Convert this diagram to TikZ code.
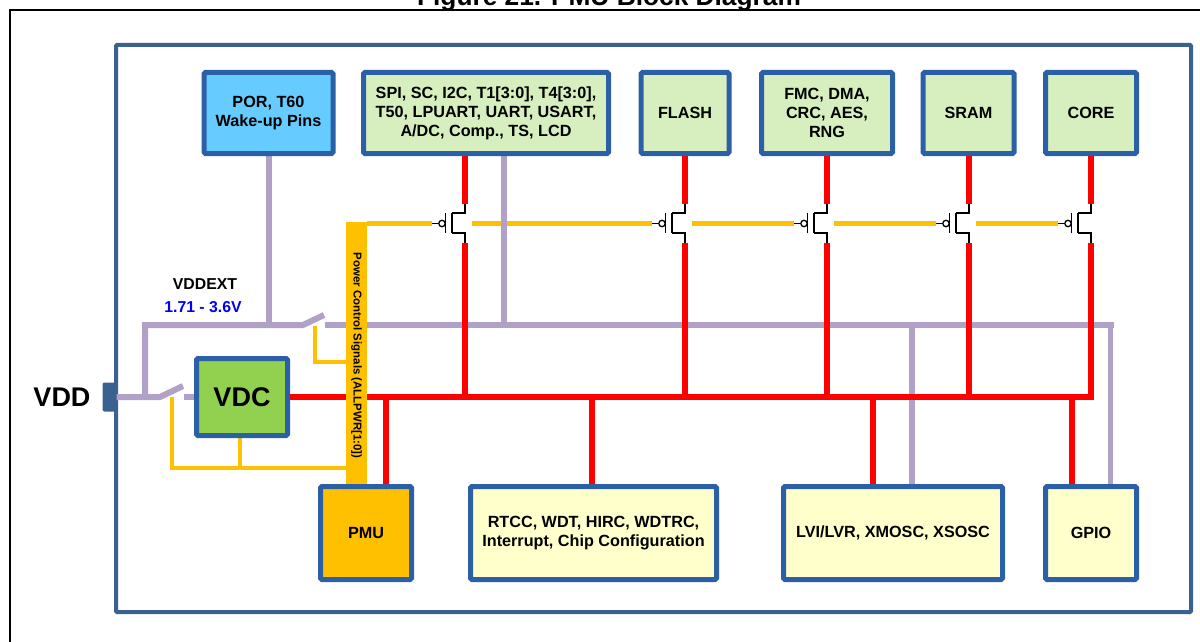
\documentclass[tikz,border=0pt]{standalone}
\usepackage{fontspec}
\setmainfont{Liberation Sans}
\definecolor{bluebd}{HTML}{2B60A6}
\definecolor{outerbd}{HTML}{3B6190}
\definecolor{greenfl}{HTML}{D7EEBE}
\definecolor{skyfl}{HTML}{66CCFF}
\definecolor{vdcfl}{HTML}{92D050}
\definecolor{orangec}{HTML}{FFC000}
\definecolor{creamfl}{HTML}{FFFFCC}
\definecolor{purplec}{HTML}{B1A0C7}
\definecolor{redc}{HTML}{FF0000}
\tikzset{
  blockbox/.style={draw=bluebd,line width=5pt,rounded corners=1.5pt,inner sep=0pt,outer sep=2.5pt,
    align=center,font=\fontsize{16.2}{19}\selectfont\bfseries,text=black},
  greenbox/.style={blockbox,fill=greenfl},
  creambox/.style={blockbox,fill=creamfl},
  powerline/.style={draw=redc,line width=6pt},
  supplyline/.style={draw=purplec,line width=6pt},
  ctrlline/.style={draw=orangec,line width=4.5pt},
  fetline/.style={draw=black,line width=1.5pt},
  label/.style={inner sep=0pt,font=\fontsize{15.8}{19}\selectfont\bfseries},
}
\newcommand{\fet}[2]{% name, x
  \coordinate (#1d) at (#2,204);
  \coordinate (#1s) at (#2,243);
  \coordinate (#1gl) at (#2-33,223.5);
  \coordinate (#1gr) at (#2+7,223.5);
  \draw[fetline] (#1d) -- ++(0,9) -- ++(-13,0) (#1s) -- ++(0,-10) -- ++(-13,0);
  \draw[fetline] (#2-13,213) -- (#2-13,233);
  \draw[fetline] (#2-19.5,213) -- (#2-19.5,233);
  \draw[fetline] (#1gl) -- ++(6.5,0);
  \draw[draw=black,line width=1.3pt,fill=white] (#2-23,223.5) circle (3.2pt);
}
\begin{document}
\begin{tikzpicture}[x=1pt,y=-1pt]
\useasboundingbox (0,0) rectangle (1200,642);
\begin{scope}
\clip (0,0) rectangle (1200,642);
\node[inner sep=0pt,anchor=base,font=\fontsize{26.3}{30}\selectfont\bfseries] (title) at (609,6) {Figure 21. PMU Block Diagram};
\draw[black,line width=2pt] (9.5,650) |- (1210,10);
\end{scope}
\node[draw=outerbd,line width=4pt,rounded corners=1pt,minimum width=1075pt,minimum height=567pt,inner sep=0pt] (chip) at (653.5,328.5) {};
% blocks lie on a layer above the lines
\pgfdeclarelayer{blocks}
\pgfsetlayers{main,blocks}
\begin{pgfonlayer}{blocks}
\node[blockbox,fill=skyfl,minimum width=129pt,minimum height=81pt] (por) at (268.5,113) {POR, T60\\Wake-up Pins};
\node[greenbox,minimum width=245pt,minimum height=81pt] (spi) at (486,113) {SPI, SC, I2C, T1[3:0], T4[3:0],\\T50, LPUART, UART, USART,\\A/DC, Comp., TS, LCD};
\node[greenbox,minimum width=88pt,minimum height=81pt] (flash) at (685,113) {FLASH};
\node[greenbox,minimum width=131pt,minimum height=81pt] (fmc) at (827,113) {FMC, DMA,\\CRC, AES,\\RNG};
\node[greenbox,minimum width=91pt,minimum height=81pt] (sram) at (968.5,113) {SRAM};
\node[greenbox,minimum width=91pt,minimum height=81pt] (core) at (1091,113) {CORE};
\node[blockbox,fill=vdcfl,minimum width=91pt,minimum height=77pt,font=\fontsize{27}{30}\selectfont\bfseries] (vdc) at (242,397) {VDC};
\node[blockbox,fill=orangec,minimum width=91pt,minimum height=93pt] (pmu) at (366,533) {PMU};
\node[creambox,minimum width=246pt,minimum height=93pt] (rtcc) at (593.5,533) {RTCC, WDT, HIRC, WDTRC,\\Interrupt, Chip Configuration};
\node[creambox,minimum width=219pt,minimum height=93pt] (lvi) at (893,533) {LVI/LVR, XMOSC, XSOSC};
\node[creambox,minimum width=91pt,minimum height=93pt] (gpio) at (1091,533) {GPIO};
% control bar
\node[fill=orangec,rotate=-90,minimum width=262pt,minimum height=21pt,inner sep=0pt,font=\fontsize{11.4}{13}\selectfont\bfseries] (bar) at (356.5,353) {\hspace*{5pt}Power Control Signals (ALLPWR[1:0])};
\end{pgfonlayer}
% VDD pin
\node[draw=none,fill=outerbd,rounded corners=2pt,minimum width=14pt,minimum height=29pt,inner sep=0pt] (pin) at (109.5,397) {};
\node[inner sep=0pt,font=\fontsize{27}{30}\selectfont\bfseries] (vddl) at (62,397) {VDD};
\node[label] (vddext) at (205,284) {VDDEXT};
\node[label,text=blue] (range) at (203,307) {1.71 - 3.6V};
% junctions
\coordinate (swAin) at (160,397);
\coordinate (swAout) at (183,386);
\coordinate (swAres) at (184,397);
\coordinate (jV) at (145,397);
\coordinate (jT) at (145,325);
\coordinate (swBin) at (303,325);
\coordinate (swBout) at (324,315);
\coordinate (swBres) at (325,325);
\coordinate (jEnd) at (1110.5,325);
% control lines
\fet{qa}{465}
\fet{qb}{685}
\fet{qc}{827}
\fet{qd}{969}
\fet{qe}{1091}
\draw[ctrlline] (bar.north |- qagl) -- (qagl);
\draw[ctrlline] (qagr) -- (qbgl);
\draw[ctrlline] (qbgr) -- (qcgl);
\draw[ctrlline] (qcgr) -- (qdgl);
\draw[ctrlline] (qdgr) -- (qegl);
% supply lines
\draw[supplyline] (pin.east) -- (swAin) -- (swAout);
\draw[supplyline] (swAres) -- (vdc.west);
\draw[supplyline] (jV) -- (jT) -- (swBin) -- (swBout);
\draw[supplyline] (swBres) -- (1113.5,325);
\draw[draw=purplec,line width=5.5pt] (1110.5,322) -- (gpio.north -| jEnd);
\draw[supplyline] (por.south) -- (por.south |- jT);
\draw[supplyline] (spi.south -| 504,0) -- (504,325);
\draw[draw=purplec,line width=5.5pt] (912,325) -- (lvi.north -| 912,0);
% power lines
\draw[powerline] (vdc.east) -- (1094,397);
\foreach \n/\x in {qa/465,qb/685,qc/827,qd/969,qe/1091}{
  \draw[powerline] (\n s) -- (\x,400);
}
\draw[powerline] (spi.south -| qad) -- (qad);
\draw[powerline] (flash.south) -- (qbd);
\draw[powerline] (fmc.south) -- (qcd);
\draw[powerline] (sram.south -| qdd) -- (qdd);
\draw[powerline] (core.south) -- (qed);
\draw[powerline] (386,397) -- (pmu.north -| 386,0);
\draw[powerline] (592,397) -- (rtcc.north -| 592,0);
\draw[powerline] (873,397) -- (lvi.north -| 873,0);
\draw[powerline] (1072,397) -- (gpio.north -| 1072,0);
% switch controls
\draw[draw=orangec,line width=4pt] (315,326) |- (346,362);
\draw[draw=orangec,line width=4pt] (172,397) |- (346,468);
\draw[draw=orangec,line width=4pt] (vdc.south -| 240,0) -- (240,468);
\end{tikzpicture}
\end{document}
